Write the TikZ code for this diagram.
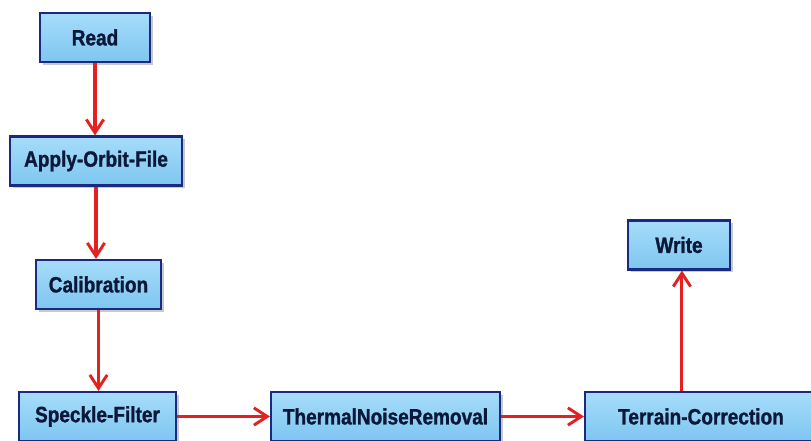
\documentclass[tikz,border=0pt]{standalone}
\usepackage{fontspec}
\setmainfont{Liberation Sans}
\newfontfamily\boxfont[FakeStretch=0.86,FakeBold=1.2]{Liberation Sans}
\usetikzlibrary{arrows.meta,shadows}
\definecolor{boxtop}{HTML}{A6DCFA}
\definecolor{boxbot}{HTML}{7EC6F0}
\definecolor{boxline}{HTML}{1A2A80}
\definecolor{txt}{HTML}{0B1838}
\definecolor{arr}{HTML}{E52020}
\tikzset{
  opbox/.style={draw=boxline, line width=1.6pt, top color=boxtop, bottom color=boxbot,
    minimum height=49*0.75pt, inner sep=0pt, text=txt,
    font=\boxfont\fontsize{16.6pt}{18pt}\selectfont\bfseries,
    drop shadow={shadow xshift=2pt, shadow yshift=-2pt, opacity=0.35, fill=black!60}},
  flow/.style={draw=arr, line width=2.3pt, -{Straight Barb[length=10pt,width=13pt,line width=2.2pt]}}
}
\begin{document}
\begin{tikzpicture}[x=0.75pt,y=-0.75pt]
\useasboundingbox (0,0) rectangle (811,441);
\clip (0,0) rectangle (811,441);
\fill[white] (0,0) rectangle (811,441);
\node[opbox, minimum width=110*0.75pt] (read) at (95,37.5) {Read};
\node[opbox, minimum width=172*0.75pt] (orbit) at (96,161) {Apply-Orbit-File};
\node[opbox, minimum width=125*0.75pt] (calib) at (98.5,284.5) {Calibration};
\node[opbox, minimum width=157*0.75pt] (speckle) at (97.5,416.5) {Speckle-Filter};
\node[opbox, minimum width=229*0.75pt] (thermal) at (385.5,416.5) {ThermalNoiseRemoval};
\node[opbox, minimum width=232*0.75pt] (terrain) at (701,416.5) {Terrain-Correction};
\node[opbox, minimum width=102*0.75pt] (write) at (679,245) {Write};
\draw[flow] (read.south) -- (read.south |- orbit.north);
\draw[flow] (orbit.south) -- (orbit.south |- calib.north);
\draw[flow] (calib.south) -- (calib.south |- speckle.north);
\draw[flow] (speckle.east) -- (thermal.west);
\draw[flow] (thermal.east) -- (terrain.west);
\draw[flow] ([xshift=2.2pt]write.south |- terrain.north) -- ([xshift=2.2pt]write.south);
\end{tikzpicture}
\end{document}
